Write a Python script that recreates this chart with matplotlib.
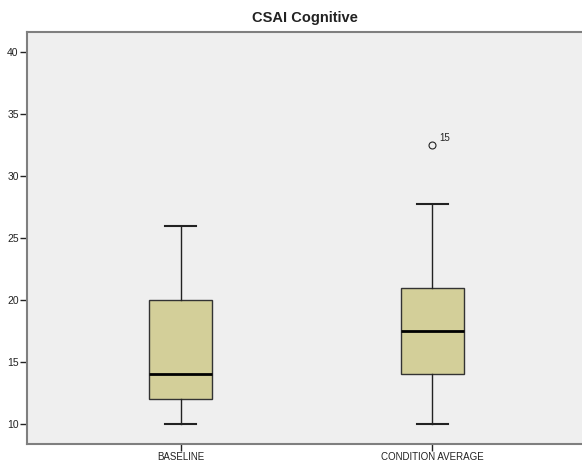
import matplotlib
matplotlib.use('agg')
from matplotlib import pyplot as plt

plt.rcParams['font.family'] = ['Liberation Sans', 'DejaVu Sans']

# data
categories = ['BASELINE', 'CONDITION AVERAGE']
whisker_low = [10, 10]
q1 = [12, 14]
median = [14, 17.5]
q3 = [20, 21]
whisker_high = [26, 27.75]
outlier_values = [[], [32.5]]
outlier_labels = [[], ['15']]
y_ticks = [10, 15, 20, 25, 30, 35, 40]

stats = []
for i in range(len(categories)):
    stats.append({'label': categories[i], 'whislo': whisker_low[i], 'q1': q1[i],
                  'med': median[i], 'q3': q3[i], 'whishi': whisker_high[i],
                  'fliers': outlier_values[i]})

fig = plt.figure(figsize=(5.82, 4.65), dpi=100)
ax = fig.add_axes([27 / 582, 1 - 444 / 465, 1 - 27 / 582, (444 - 32) / 465])
ax.set_facecolor('#efefef')

positions = list(range(1, len(categories) + 1))
ax.bxp(stats, positions=positions, widths=0.25, patch_artist=True,
       boxprops=dict(facecolor='#d3cf99', edgecolor='#333333', linewidth=1.0),
       medianprops=dict(color='black', linewidth=2.0),
       whiskerprops=dict(color='#222222', linewidth=1.0),
       capprops=dict(color='#222222', linewidth=1.5),
       capwidths=0.125,
       flierprops=dict(marker='o', markersize=5, markerfacecolor='none',
                       markeredgecolor='#222222', markeredgewidth=0.8))

for i in range(len(categories)):
    for v, lab in zip(outlier_values[i], outlier_labels[i]):
        ax.annotate(lab, (positions[i], v), xytext=(5, 3), textcoords='offset points',
                    fontsize=7, color='#222222')

ax.set_xlim(0.389, 2.595)
ax.set_ylim(8.39, 41.64)
ax.set_yticks(y_ticks)
ax.set_yticklabels([str(t) for t in y_ticks], fontsize=7.5, color='#222222')
ax.set_xticks(positions)
ax.set_xticklabels(categories, fontsize=7, color='#222222')
ax.tick_params(axis='both', length=5, width=1, color='#222222', pad=1)

for side in ['top', 'left', 'bottom']:
    ax.spines[side].set_color('#7f7f7f')
    ax.spines[side].set_linewidth(1.5)
ax.spines['right'].set_visible(False)

ax.set_title('CSAI Cognitive', fontsize=10.5, fontweight='bold', color='#222222', pad=7)

fig.savefig('out.png', dpi=100)
